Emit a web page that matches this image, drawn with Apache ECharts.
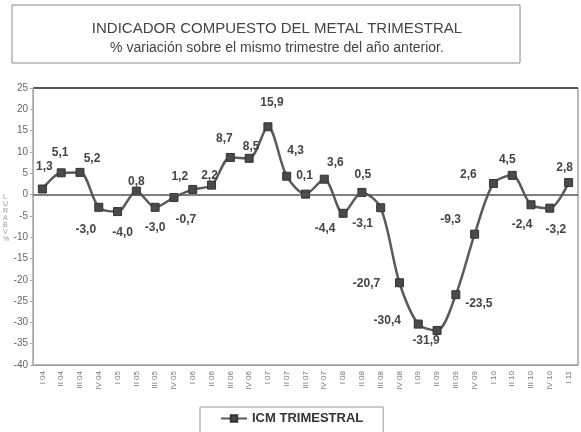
<!DOCTYPE html>
<html>
<head>
<meta charset="utf-8">
<script src="https://cdn.jsdelivr.net/npm/echarts@6/dist/echarts.min.js"></script>
<style>
html, body { margin: 0; padding: 0; background: #fff; }
#main { width: 581px; height: 432px; }
</style>
</head>
<body>
<div id="main"></div>
<script>
// trimestres 2004 I .. 2011 I
var quarters = ['I 04','II 04','III 04','IV 04','I 05','II 05','III 05','IV 05',
                'I 06','II 06','III 06','IV 06','I 07','II 07','III 07','IV 07',
                'I 08','II 08','III 08','IV 08','I 09','II 09','III 09','IV 09',
                'I 10','II 10','III 10','IV 10','I 11'];
var icm = [1.3, 5.1, 5.2, -3.0, -4.0, 0.8, -3.0, -0.7,
           1.2, 2.2, 8.7, 8.5, 15.9, 4.3, 0.1, 3.6,
           -4.4, 0.5, -3.1, -20.7, -30.4, -31.9, -23.5, -9.3,
           2.6, 4.5, -2.4, -3.2, 2.8];
var yTicks = { min: -40, max: 25, step: 5 };

// desplazamiento de cada etiqueta respecto al punto (px)
var labelOffset = [[2,-22],[-1,-20],[12,-14],[-13,22],[5,21],[0,-9],[0,20],[12,22],
                   [-13,-13],[-2,-9],[-6,-19],[2,-12],[4,-24],[9,-26],[-1,-18],[11,-17],
                   [-18,15],[1,-18],[-18,16],[-33,1],[-31,-3],[-11,10],[23,9],[-24,-14],
                   [-25,-9],[-5,-16],[-9,20],[6,22],[-4,-15]];

var font = '"Liberation Sans", Arial, sans-serif';

var seriesData = icm.map(function (v, i) {
    return {
        value: v,
        label: { position: 'inside', offset: labelOffset[i] }
    };
});

var myChart = echarts.init(document.getElementById('main'));
var option = {
    animation: false,
    backgroundColor: '#fff',
    title: {
        text: 'INDICADOR COMPUESTO DEL METAL TRIMESTRAL',
        subtext: '% variación sobre el mismo trimestre del año anterior.',
        left: 272,
        top: 16,
        textAlign: 'center',
        itemGap: 5,
        textStyle: { fontFamily: font, fontSize: 15, fontWeight: 'normal', color: '#444' },
        subtextStyle: { fontFamily: font, fontSize: 14, color: '#444' }
    },
    graphic: [
        {
            type: 'rect',
            shape: { x: 12, y: 5, width: 508, height: 58 },
            style: { fill: 'none', stroke: '#888', lineWidth: 1 }
        },
        {
            type: 'line',
            shape: { x1: 33, y1: 88, x2: 578, y2: 88 },
            style: { stroke: '#555', lineWidth: 2 }
        },
        {
            type: 'text',
            left: 3,
            top: 194,
            style: {
                text: 'L\nU\nR\nA\nB\nV\n%',
                fontFamily: font, fontSize: 7, lineHeight: 7, fill: '#999'
            }
        }
    ],
    legend: {
        left: 200,
        top: 407,
        width: 195,
        padding: [5, 20, 10, 20],
        itemWidth: 26,
        itemHeight: 8,
        itemGap: 2,
        borderColor: '#999',
        borderWidth: 1,
        textStyle: { fontFamily: font, fontSize: 13, fontWeight: 'bold', color: '#333' },
        data: ['ICM TRIMESTRAL']
    },
    grid: {
        left: 33, right: 3, top: 88, bottom: 67,
        show: true,
        borderColor: '#777',
        borderWidth: 1
    },
    xAxis: {
        type: 'category',
        data: quarters,
        boundaryGap: true,
        axisLine: { onZero: false, lineStyle: { color: '#999' } },
        axisTick: { show: false },
        axisLabel: {
            interval: 0,
            rotate: 90,
            margin: 6,
            fontFamily: font,
            fontSize: 8,
            color: '#777'
        }
    },
    yAxis: {
        type: 'value',
        min: yTicks.min,
        max: yTicks.max,
        interval: yTicks.step,
        axisLine: { show: true, lineStyle: { color: '#aaa' } },
        axisTick: { show: true, length: 3, lineStyle: { color: '#aaa' } },
        splitLine: { show: false },
        axisLabel: { fontFamily: font, fontSize: 10, color: '#666', margin: 5 }
    },
    series: [
        {
            name: 'ICM TRIMESTRAL',
            type: 'line',
            data: seriesData,
            smooth: 0.3,
            symbol: 'rect',
            symbolSize: 8,
            lineStyle: { color: '#5a5a5a', width: 2.5 },
            itemStyle: { color: '#4a4a4a', borderColor: '#333', borderWidth: 1 },
            label: {
                show: true,
                fontFamily: font,
                fontSize: 12,
                fontWeight: 'bold',
                color: '#444',
                formatter: function (p) {
                    return p.value.toFixed(1).replace('.', ',');
                }
            },
            markLine: {
                silent: true,
                symbol: 'none',
                label: { show: false },
                lineStyle: { color: '#555', type: 'solid', width: 1.5 },
                data: [{ yAxis: 0 }]
            },
            z: 3
        }
    ]
};
myChart.setOption(option);
</script>
</body>
</html>
